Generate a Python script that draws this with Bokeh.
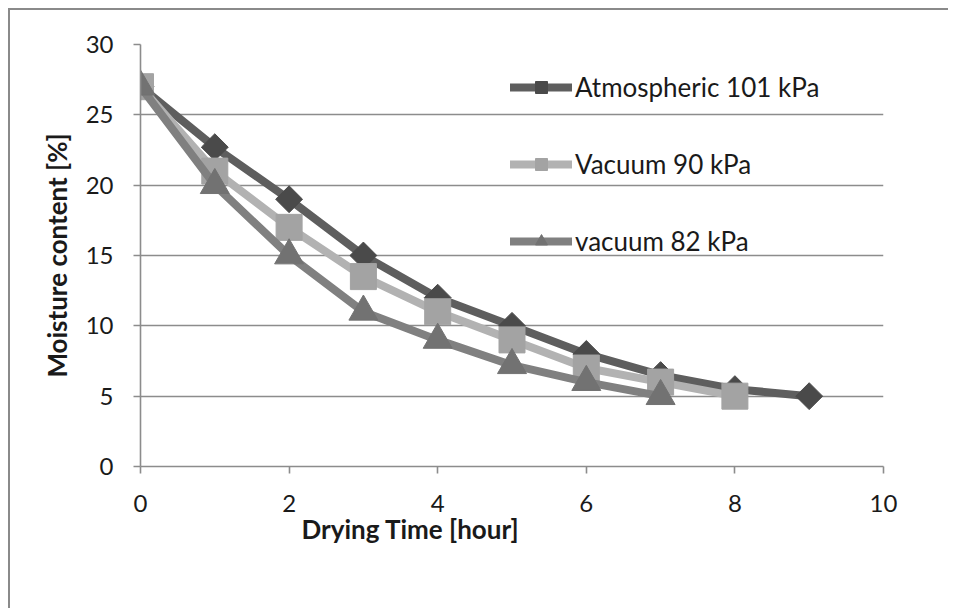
import math
from bokeh.plotting import figure
from bokeh.models import Legend, LegendItem, FixedTicker, Range1d, Title
from bokeh.embed import file_html
from bokeh.resources import INLINE

hours_atm = [0, 1, 2, 3, 4, 5, 6, 7, 8, 9]
moist_atm = [27, 22.7, 19, 15, 12, 10, 8, 6.5, 5.5, 5]
hours_v90 = [0, 1, 2, 3, 4, 5, 6, 7, 8]
moist_v90 = [27, 21, 17, 13.5, 11, 9, 7, 6, 5]
hours_v82 = [0, 1, 2, 3, 4, 5, 6, 7]
moist_v82 = [27, 20, 15, 11, 9, 7.2, 6, 5]
x_ticks = [0, 2, 4, 6, 8, 10]
y_ticks = [0, 5, 10, 15, 20, 25, 30]

FONT = "Lato"
TXT = "#1a1a1a"

p = figure(width=940, height=600, output_backend="svg", toolbar_location=None,
           x_range=Range1d(0, 10), y_range=Range1d(0, 30),
           min_border_left=130, min_border_top=34, min_border_right=67, min_border_bottom=144)
p.styles = {"margin-left": "8px", "margin-top": "8px",
            "border-left": "2px solid #8a8a8a", "border-top": "2px solid #8a8a8a"}
p.outline_line_color = None
p.background_fill_color = "white"
p.border_fill_color = "white"

p.xgrid.grid_line_color = None
p.ygrid.grid_line_color = "#8c8c8c"
p.ygrid.grid_line_width = 1.6
p.ygrid.ticker = FixedTicker(ticks=y_ticks)

for ax in (p.xaxis[0], p.yaxis[0]):
    ax.axis_line_color = "#8c8c8c"
    ax.axis_line_width = 1.6
    ax.major_tick_line_color = "#8c8c8c"
    ax.major_tick_line_width = 1.6
    ax.major_tick_out = 7
    ax.major_tick_in = 0
    ax.minor_tick_line_color = None
    ax.major_label_text_font = FONT
    ax.major_label_text_font_size = "24px"
    ax.major_label_text_color = TXT
    ax.axis_label_text_font = FONT
    ax.axis_label_text_font_size = "26px"
    ax.axis_label_text_font_style = "bold"
    ax.axis_label_text_color = TXT

p.xaxis.ticker = FixedTicker(ticks=x_ticks)
p.yaxis.ticker = FixedTicker(ticks=y_ticks)
p.yaxis.axis_label = "Moisture content [%]"
p.xaxis.major_label_standoff = 21
p.yaxis.major_label_standoff = 20
p.yaxis.axis_label_standoff = 10

# x-axis title sits left of the frame centre, as in the original
p.add_layout(Title(text="Drying Time [hour]", align="left", offset=161, standoff=-8,
                   text_font=FONT, text_font_size="26px", text_font_style="bold",
                   text_color=TXT), "below")

series = [
    ("Atmospheric 101 kPa", hours_atm, moist_atm, "#5e5e5e", "#4a4a4a", "square", 19, math.pi / 4),
    ("Vacuum 90 kPa", hours_v90, moist_v90, "#b2b2b2", "#a3a3a3", "square", 26, 0),
    ("vacuum 82 kPa", hours_v82, moist_v82, "#808080", "#727272", "triangle", 29, 0),
]

items = []
for name, xs, ys, lc, mc, marker, size, ang in series:
    r1 = p.line(xs, ys, line_color=lc, line_width=8, line_join="round", line_cap="round")
    r2 = p.scatter(xs, ys, marker=marker, size=size, angle=ang,
                   fill_color=mc, line_color=mc)
    items.append(LegendItem(label=name, renderers=[r1, r2]))

legend = Legend(items=items, location=(370, 209), orientation="vertical",
                glyph_width=62, glyph_height=30, label_height=30, spacing=45,
                padding=0, margin=0, label_standoff=3,
                label_text_font=FONT, label_text_font_size="26px",
                label_text_color=TXT,
                background_fill_alpha=0, border_line_color=None)
p.add_layout(legend, "center")

open("out.html", "w").write(file_html(p, INLINE))
